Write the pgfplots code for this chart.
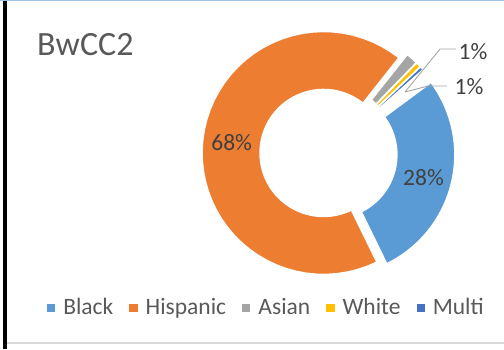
\documentclass[border=0pt]{standalone}
\usepackage{pgfplots}
\pgfplotsset{compat=1.18}
\usepackage{pgfplotstable}
\usepackage{fontspec}
\setmainfont{Carlito}

\definecolor{cBlack}{HTML}{5B9BD5}
\definecolor{cHisp}{HTML}{ED7D31}
\definecolor{cAsian}{HTML}{A5A5A5}
\definecolor{cWhite}{HTML}{FFC000}
\definecolor{cMulti}{HTML}{4472C4}
\definecolor{txtgray}{HTML}{595959}
\definecolor{lblgray}{HTML}{404040}
\definecolor{leadgray}{HTML}{A6A6A6}
\definecolor{topblue}{HTML}{9DC3E6}
\definecolor{framegray}{HTML}{D9D9D9}

\pgfplotstableread{
group pct
Black 27.9
Hispanic 67.9
Asian 1.6
White 0.7
Multi 0.5
}\donutdata

\def\cx{328.5}\def\cy{195.5}\def\Ro{121.5}\def\Ri{63.5}\def\dx{5}
\pgfmathsetmacro\aA{53.5}
\pgfplotstablegetelem{0}{pct}\of\donutdata
\pgfmathsetmacro\bA{\aA+3.6*\pgfplotsretval}
\pgfplotstablegetelem{1}{pct}\of\donutdata
\pgfmathsetmacro\aB{\bA}
\pgfmathsetmacro\bB{\aB+3.6*\pgfplotsretval}
\pgfplotstablegetelem{2}{pct}\of\donutdata
\pgfmathsetmacro\aC{\bB}
\pgfmathsetmacro\bC{\aC+3.6*\pgfplotsretval}
\pgfplotstablegetelem{3}{pct}\of\donutdata
\pgfmathsetmacro\aD{\bC}
\pgfmathsetmacro\bD{\aD+3.6*\pgfplotsretval}
\pgfplotstablegetelem{4}{pct}\of\donutdata
\pgfmathsetmacro\aE{\bD}
\pgfmathsetmacro\bE{\aE+3.6*\pgfplotsretval}

\newcommand\donutslice[3]{%
\addplot[forget plot, fill=#3, draw=white, line width=1.5bp,
  samples at={0,0.02,...,2.02}, variable=\t]
 ({\cx+\dx*sin((#1+#2)/2)+(\t<1.01?\Ro:\Ri)*sin(\t<1.01?#1+min(\t,1)*(#2-#1):#2-min(max(\t-1.02,0),1)*(#2-#1))},
  {\cy+\dx*cos((#1+#2)/2)+(\t<1.01?\Ro:\Ri)*cos(\t<1.01?#1+min(\t,1)*(#2-#1):#2-min(max(\t-1.02,0),1)*(#2-#1))}) -- cycle;
}

\begin{document}
\begin{tikzpicture}
\begin{axis}[
  x=1bp, y=1bp, xmin=0, xmax=504, ymin=0, ymax=349,
  hide axis, clip=false,
  legend columns=-1,
  legend style={at={(axis cs:47,41.5)}, anchor=west, draw=none, fill=none,
    inner sep=0pt, outer sep=0pt,
    font=\fontsize{23.5bp}{28bp}\selectfont, text=txtgray,
    nodes={inner sep=0pt},
    /tikz/every odd column/.append style={column sep=8bp},
    /tikz/every even column/.append style={column sep=16bp}},
  legend image code/.code={\fill[#1, draw=none] (0bp,-4.2bp) rectangle (8.3bp,3.8bp);},
]
\path (axis cs:0,0) rectangle (axis cs:504,349);
% frame
\fill[topblue] (axis cs:0,347.5) rectangle (axis cs:504,349);
\fill[framegray] (axis cs:6,5.5) rectangle (axis cs:504,7.5);
\fill[black] (axis cs:2.5,0) rectangle (axis cs:6.5,347.5);

\donutslice{\aA}{\bA}{cBlack}
\donutslice{\aB}{\bB}{cHisp}
\donutslice{\aC}{\bC}{cAsian}
\donutslice{\aD}{\bD}{cWhite}
\donutslice{\aE}{\bE}{cMulti}

\addlegendimage{fill=cBlack}\addlegendentry{Black}
\addlegendimage{fill=cHisp}\addlegendentry{Hispanic}
\addlegendimage{fill=cAsian}\addlegendentry{Asian}
\addlegendimage{fill=cWhite}\addlegendentry{White}
\addlegendimage{fill=cMulti}\addlegendentry{Multi}

% leader lines
\draw[leadgray, line width=0.9bp] (axis cs:456,300) -- (axis cs:440,300) -- (axis cs:405,257);
\draw[leadgray, line width=0.9bp] (axis cs:447,263) -- (axis cs:428,263) -- (axis cs:405,257);

% labels
\node[text=txtgray, font=\fontsize{34bp}{40bp}\selectfont, anchor=base west, inner sep=0pt] at (axis cs:37,294) {BwCC2};
\node[text=lblgray, font=\fontsize{23.5bp}{28bp}\selectfont] at (axis cs:231.7,206.5) {68\%};
\node[text=lblgray, font=\fontsize{23.5bp}{28bp}\selectfont] at (axis cs:423.5,171) {28\%};
\node[text=lblgray, font=\fontsize{23.5bp}{28bp}\selectfont] at (axis cs:473,297.5) {1\%};
\node[text=lblgray, font=\fontsize{23.5bp}{28bp}\selectfont] at (axis cs:469,262.5) {1\%};
\end{axis}
\end{tikzpicture}
\end{document}
